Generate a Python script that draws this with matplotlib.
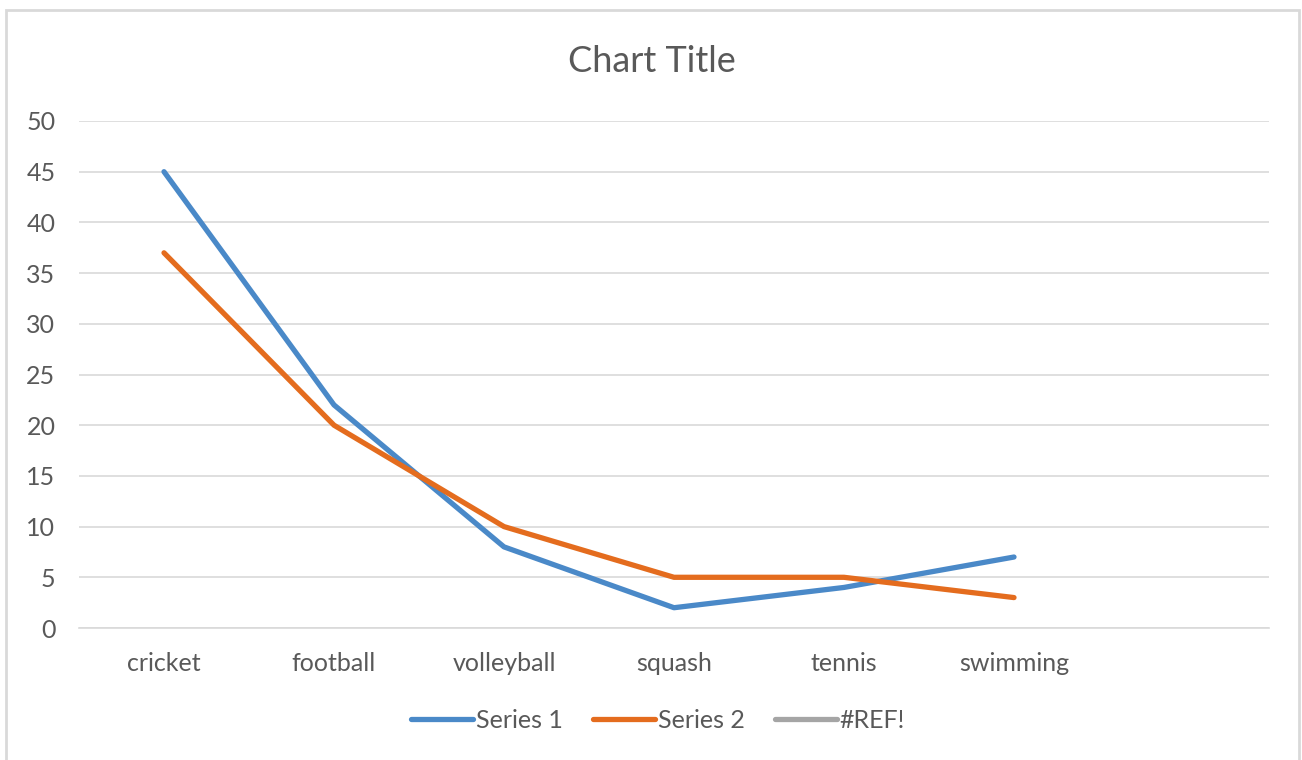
import matplotlib
matplotlib.use("Agg")
import matplotlib.pyplot as plt
from matplotlib.patches import Rectangle
from matplotlib.lines import Line2D

categories = ["cricket", "football", "volleyball", "squash", "tennis", "swimming", ""]
series1 = [45, 22, 8, 2, 4, 7]
series2 = [37, 20, 10, 5, 5, 3]
series_names = ["Series 1", "Series 2", "#REF!"]
colors = ["#4A89C8", "#E46C1E", "#A5A5A5"]
yticks = [0, 5, 10, 15, 20, 25, 30, 35, 40, 45, 50]

plt.rcParams['font.family'] = ['Lato', 'DejaVu Sans']
txt = "#595959"

W, H = 1302, 760
fig = plt.figure(figsize=(W/100, H/100), dpi=100)
fig.patches.append(Rectangle((6/W, -0.1), 1293/W, 1.1 - 10/H, transform=fig.transFigure,
                             fill=False, edgecolor="#D9D9D9", linewidth=2))

ax = fig.add_axes([79/W, 1-628/H, (1269-79)/W, (628-121)/H])
x = list(range(len(categories)))
ax.plot(x[:len(series1)], series1, color=colors[0], lw=3.8, solid_capstyle='round', solid_joinstyle='round', zorder=3)
ax.plot(x[:len(series2)], series2, color=colors[1], lw=3.8, solid_capstyle='round', solid_joinstyle='round', zorder=3)

ax.set_xlim(-0.5, len(categories) - 0.5)
ax.set_ylim(0, 50)
ax.set_yticks(yticks)
ax.set_yticklabels([str(v) for v in yticks])
ax.set_xticks(x)
ax.set_xticklabels(categories)
ax.grid(axis='y', color="#D9D9D9", lw=1.2)
ax.set_axisbelow(True)
for s in ["top", "right", "left"]:
    ax.spines[s].set_visible(False)
ax.spines["bottom"].set_color("#D9D9D9")
ax.spines["bottom"].set_linewidth(1.2)
ax.tick_params(axis='both', length=0, colors=txt, labelsize=18)
ax.tick_params(axis='y', pad=17)
ax.tick_params(axis='x', pad=17)

fig.text(652/W, 1-61/H, "Chart Title", ha='center', va='center', fontsize=26, color=txt)

handles = [Line2D([0], [0], color=c, lw=3.8, solid_capstyle='round') for c in colors]
fig.legend(handles, series_names, loc='center', bbox_to_anchor=(658/W, 1-720/H), ncol=3,
           frameon=False, fontsize=18, labelcolor=txt, handlelength=2.5, handletextpad=0.1,
           columnspacing=1.2)

fig.savefig("out.png", dpi=100)
